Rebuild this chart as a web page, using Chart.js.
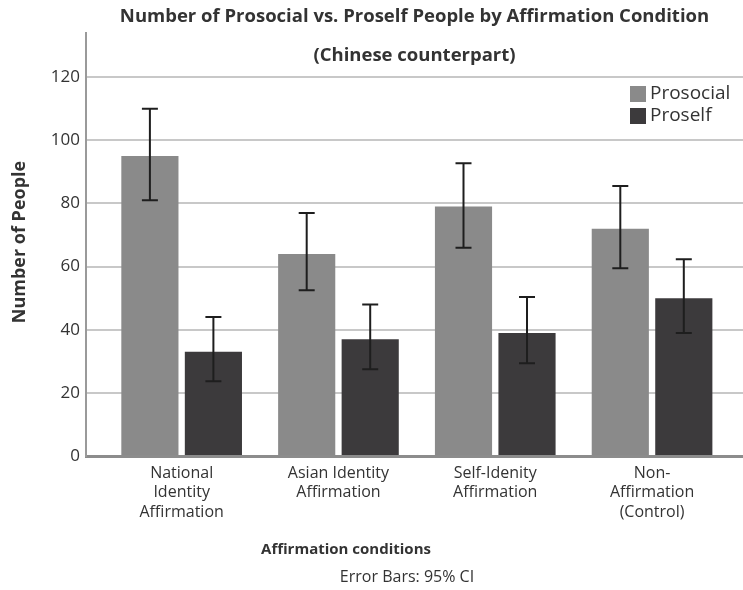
<!DOCTYPE html>
<html>
<head>
<meta charset="utf-8">
<script src="https://cdn.jsdelivr.net/npm/chart.js@4/dist/chart.umd.min.js"></script>
<style>
  html, body { margin: 0; padding: 0; background: #fff; }
  #wrap { width: 743px; height: 590px; }
</style>
</head>
<body>
<div id="wrap"><canvas id="myChart" width="743" height="590"></canvas></div>
<script>
const categories = [
    ['National', 'Identity', 'Affirmation'],
    ['Asian Identity', 'Affirmation'],
    ['Self-Idenity', 'Affirmation'],
    ['Non-', 'Affirmation', '(Control)']
];
const prosocial = [95, 64, 79, 72];
const proself = [33, 37, 39, 50];
// 95% CI bounds
const prosocialLow = [81, 52.5, 66, 59.5];
const prosocialHigh = [110, 77, 92.7, 85.5];
const proselfLow = [23.7, 27.5, 29.4, 39];
const proselfHigh = [44, 48, 50.4, 62.3];
const yTicks = [0, 20, 40, 60, 80, 100, 120];

const FONT = '"Open Sans", sans-serif';
const TEXT = '#333';

const errorBars = {
    id: 'error-bars',
    afterDatasetsDraw(chart) {
        const ctx = chart.ctx;
        const y = chart.scales.y;
        ctx.save();
        ctx.strokeStyle = '#1e1e1e';
        ctx.lineWidth = 2;
        chart.data.datasets.forEach((ds, di) => {
            const meta = chart.getDatasetMeta(di);
            meta.data.forEach((bar, i) => {
                const top = y.getPixelForValue(ds.hi[i]);
                const bottom = y.getPixelForValue(ds.lo[i]);
                ctx.beginPath();
                ctx.moveTo(bar.x, top);
                ctx.lineTo(bar.x, bottom);
                ctx.moveTo(bar.x - 8, top);
                ctx.lineTo(bar.x + 8, top);
                ctx.moveTo(bar.x - 8, bottom);
                ctx.lineTo(bar.x + 8, bottom);
                ctx.stroke();
            });
        });
        ctx.restore();
    }
};

const texts = {
    id: 'texts',
    afterDraw(chart) {
        const ctx = chart.ctx;
        const area = chart.chartArea;
        const cx = (area.left + area.right) / 2;
        ctx.save();
        ctx.fillStyle = TEXT;
        ctx.textAlign = 'center';
        ctx.textBaseline = 'middle';
        ctx.font = 'bold 18.5px ' + FONT;
        ctx.fillText('Number of Prosocial vs. Proself People by Affirmation Condition', cx, 17);
        ctx.fillText('(Chinese counterpart)', cx, 56);
        ctx.font = 'bold 15px ' + FONT;
        ctx.fillText('Affirmation conditions', 346, 550);
        ctx.font = '16px ' + FONT;
        ctx.fillText('Error Bars: 95% CI', 407, 577);

        // y axis title
        ctx.save();
        ctx.translate(20, 242);
        ctx.rotate(-Math.PI / 2);
        ctx.font = 'bold 18px ' + FONT;
        ctx.fillText('Number of People', 0, 0);
        ctx.restore();

        // legend inside plot
        ctx.textAlign = 'left';
        ctx.font = '19px ' + FONT;
        chart.data.datasets.forEach((ds, i) => {
            const top = 86 + i * 22;
            ctx.fillStyle = ds.backgroundColor;
            ctx.fillRect(630, top, 16, 16);
            ctx.fillStyle = TEXT;
            ctx.fillText(ds.label, 650, top + 8);
        });
        ctx.restore();
    }
};

const chart = new Chart(document.getElementById('myChart'), {
    type: 'bar',
    data: {
        datasets: [{
            label: 'Prosocial',
            data: prosocial.map((v, i) => ({ x: i, y: v })),
            lo: prosocialLow,
            hi: prosocialHigh,
            backgroundColor: '#8a8a8a'
        }, {
            label: 'Proself',
            data: proself.map((v, i) => ({ x: i, y: v })),
            lo: proselfLow,
            hi: proselfHigh,
            backgroundColor: '#3c3a3c'
        }]
    },
    options: {
        responsive: false,
        animation: false,
        categoryPercentage: 0.81,
        barPercentage: 0.9,
        layout: { padding: { top: 33, right: 0, left: 0, bottom: 0 } },
        plugins: {
            legend: { display: false },
            tooltip: { enabled: false },
            title: { display: false }
        },
        scales: {
            x: {
                type: 'linear',
                offset: false,
                min: -0.61,
                max: 3.58,
                grid: { display: false, drawTicks: false, offset: false },
                border: { display: true, color: '#8c8c8c', width: 3 },
                afterBuildTicks(scale) {
                    scale.ticks = categories.map((c, i) => ({ value: i }));
                },
                afterFit(scale) { scale.height = 134; },
                ticks: {
                    autoSkip: false,
                    maxRotation: 0,
                    padding: 8,
                    color: TEXT,
                    font: { family: FONT, size: 16, lineHeight: 1.2 },
                    callback: (v) => categories[v]
                }
            },
            y: {
                min: 0,
                max: 134,
                afterBuildTicks(scale) {
                    scale.ticks = yTicks.map(v => ({ value: v }));
                },
                afterFit(scale) { scale.width = 86; },
                grid: { color: '#c8c8c8', lineWidth: 2, drawTicks: false },
                border: { display: true, color: '#9a9a9a', width: 2 },
                ticks: {
                    padding: 6,
                    color: TEXT,
                    font: { family: FONT, size: 17 }
                }
            }
        }
    },
    plugins: [errorBars, texts]
});
</script>
</body>
</html>
